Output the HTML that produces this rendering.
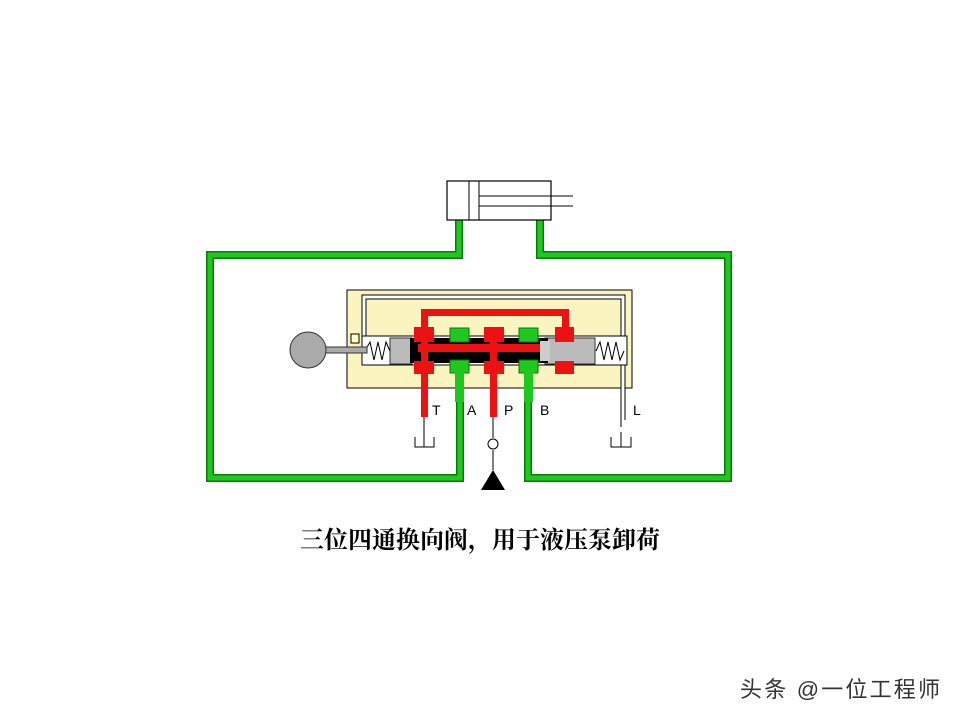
<!DOCTYPE html>
<html><head><meta charset="utf-8"><style>body{margin:0;background:#fff}svg{display:block}</style></head><body>
<svg width="960" height="720" viewBox="0 0 960 720" xmlns="http://www.w3.org/2000/svg">
<g fill="none" stroke-linejoin="miter">
<g stroke="#0a7a0a" stroke-width="8">
<polyline points="459,220 459,255 210,255 210,478 460,478 460,372"/>
<polyline points="540,220 540,255 728,255 728,478 528,478 528,372"/>
</g>
<g stroke="#1ec81e" stroke-width="5">
<polyline points="459,220 459,255 210,255 210,478 460,478 460,372"/>
<polyline points="540,220 540,255 728,255 728,478 528,478 528,372"/>
</g>
</g>
<rect x="447" y="181" width="104" height="39" fill="#fff" stroke="#000" stroke-width="1.2"/>
<line x1="469" y1="181" x2="469" y2="220" stroke="#000"/>
<line x1="479" y1="181" x2="479" y2="220" stroke="#000"/>
<line x1="479" y1="196" x2="573" y2="196" stroke="#000"/>
<line x1="479" y1="206" x2="573" y2="206" stroke="#000"/>
<rect x="347" y="290" width="285" height="98" fill="#faf5c0" stroke="#000"/>
<polyline points="364,336 364,297 623,297 623,420" fill="none" stroke="#000" stroke-width="5"/>
<polyline points="364,336 364,297 623,297 623,420" fill="none" stroke="#fff" stroke-width="3"/>
<rect x="362" y="336" width="265" height="29" fill="#fff" stroke="#000"/>
<rect x="390" y="338" width="22" height="26" fill="#bbb" stroke="#333"/>
<rect x="545" y="338" width="50" height="26" fill="#bbb" stroke="#333"/>
<polyline points="365,351 370,342 374,360 378,342 382,360 386,342 390,351" fill="none" stroke="#000"/>
<polyline points="596,351 600,342 604,360 608,342 612,360 616,342 620,360 624,351" fill="none" stroke="#000"/>
<rect x="322" y="347" width="45" height="6" fill="#aaa" stroke="#333"/>
<circle cx="308" cy="350" r="18" fill="#aaa" stroke="#333"/>
<rect x="351" y="334" width="8" height="9" fill="#ffc" stroke="#000"/>
<rect x="410" y="338" width="138" height="25" fill="#000"/>
<rect x="418" y="344" width="125" height="8" fill="#e11"/>
<rect x="540" y="341" width="10" height="20" fill="#ccc"/>
<g fill="#1ec81e" stroke="#0a7a0a">
<rect x="450" y="328" width="19" height="14"/><rect x="450" y="360" width="19" height="13"/>
<rect x="519" y="328" width="19" height="14"/><rect x="519" y="360" width="19" height="13"/>
<rect x="455" y="372" width="9" height="30" stroke="none"/><rect x="524" y="372" width="9" height="30" stroke="none"/>
</g>
<g fill="#e11">
<rect x="421" y="309" width="148" height="7"/>
<rect x="421" y="309" width="7" height="25"/><rect x="562" y="309" width="7" height="25"/>
<rect x="414" y="327" width="20" height="15"/><rect x="414" y="361" width="20" height="13"/>
<rect x="484" y="327" width="20" height="15"/><rect x="484" y="361" width="20" height="13"/>
<rect x="555" y="327" width="19" height="15"/><rect x="555" y="361" width="19" height="13"/>
<rect x="421" y="338" width="7" height="26"/><rect x="490" y="338" width="7" height="26"/>
<rect x="421" y="372" width="7" height="45"/><rect x="490" y="372" width="7" height="45"/>
</g>
<g stroke="#000" fill="none">
<line x1="424" y1="417" x2="424" y2="447"/>
<polyline points="415,437 415,447 434,447 434,437"/>
<line x1="493" y1="417" x2="493" y2="438"/>
<circle cx="493" cy="444" r="5"/>
<line x1="493" y1="450" x2="493" y2="470"/>
<line x1="621" y1="420" x2="621" y2="427"/><line x1="621" y1="432" x2="621" y2="447"/>
<polyline points="611,437 611,447 631,447 631,437"/>
</g>
<polygon points="493,470 481,490 505,490" fill="#000"/>
<g font-family="Liberation Sans,sans-serif" font-size="14" fill="#000">
<text x="432" y="415">T</text><text x="467" y="415">A</text><text x="504" y="415">P</text><text x="540" y="415">B</text><text x="633" y="415">L</text>
</g>
<text x="480" y="548" text-anchor="middle" font-family="Liberation Serif,'Noto Serif CJK SC',serif" font-size="24" font-weight="bold">三位四通换向阀，用于液压泵卸荷</text>
<text x="740" y="697" font-family="Liberation Sans,'Noto Sans CJK SC',sans-serif" font-size="22" fill="#333" textLength="200">头条 @一位工程师</text>
</svg>
</body></html>
